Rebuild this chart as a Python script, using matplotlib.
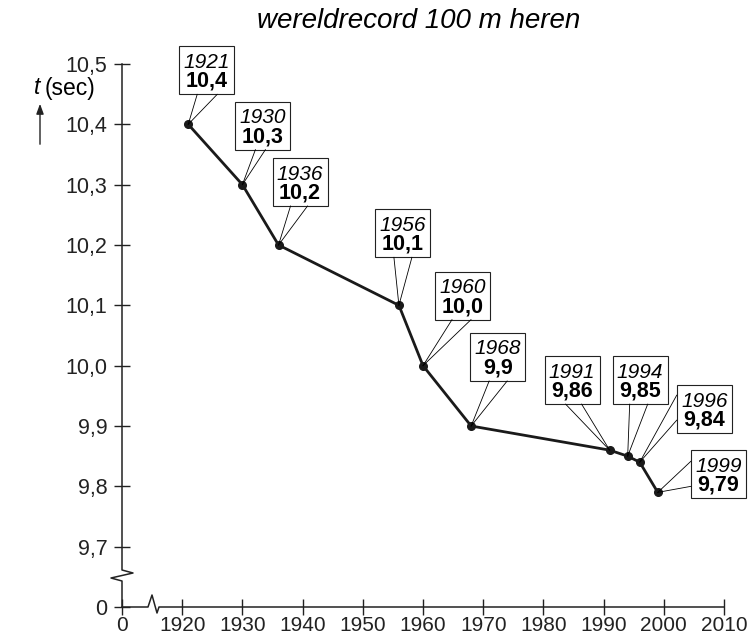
import matplotlib
matplotlib.use("Agg")
import matplotlib.pyplot as plt
from matplotlib.patches import Rectangle, FancyArrowPatch
from matplotlib.lines import Line2D

years = [1921, 1930, 1936, 1956, 1960, 1968, 1991, 1994, 1996, 1999]
times = [10.4, 10.3, 10.2, 10.1, 10.0, 9.9, 9.86, 9.85, 9.84, 9.79]
value_labels = ["10,4", "10,3", "10,2", "10,1", "10,0", "9,9", "9,86", "9,85", "9,84", "9,79"]

x_ticks = [1910, 1920, 1930, 1940, 1950, 1960, 1970, 1980, 1990, 2000, 2010]
x_ticklabels = ["0", "1920", "1930", "1940", "1950", "1960", "1970", "1980", "1990", "2000", "2010"]
y_ticks = [9.6, 9.7, 9.8, 9.9, 10.0, 10.1, 10.2, 10.3, 10.4, 10.5]
y_ticklabels = ["0", "9,7", "9,8", "9,9", "10,0", "10,1", "10,2", "10,3", "10,4", "10,5"]

# callout layout in pixels: box left/top offset from the point (screen y down),
# wedge attach side and two attach offsets
box_dx = [-9, -7, -6, -24, 12, -1, -65, -15, 37, 33]
box_dy = [-78, -83, -87, -96, -94, -93, -94, -100, -77, -42]
attach = ["b", "b", "b", "b", "b", "b", "b", "b", "l", "l"]
attach_a = [18, 20, 18, 19, 17, 19, 21, 17, 10, 11]
attach_b = [38, 30, 35, 37, 36, 37, 37, 35, 35, 36]
BW, BH = 55, 48

W, H = 748, 636
fig = plt.figure(figsize=(W / 100, H / 100), dpi=100)
x0, y0 = 122, 607       # axis origin in image pixels
xend, ytop = 724, 64
ax = fig.add_axes([x0 / W, (H - y0) / H, (xend - x0) / W, (y0 - ytop) / H])
ax.set_xlim(1910, 2010)
ax.set_ylim(9.6, 10.5)
for s in ax.spines.values():
    s.set_visible(False)

ax.set_xticks(x_ticks)
ax.set_xticklabels(x_ticklabels, family="Liberation Sans", size=15)
ax.set_yticks(y_ticks)
ax.set_yticklabels(y_ticklabels, family="Liberation Sans", size=15.5)
ax.tick_params(direction="inout", length=11, width=1, colors="#222222")
ax.tick_params(axis="x", pad=1)
ax.tick_params(axis="y", pad=5)

# axis lines with break symbols (image pixel coords -> display)
def px(pts):
    return [p[0] for p in pts], [H - p[1] for p in pts]

yaxis = [(x0, y0), (x0, 581), (111, 578), (133, 573), (x0, 570), (x0, ytop)]
xaxis = [(x0, y0), (148, y0), (152, 595), (157, 613), (159, y0), (xend, y0)]
for pts in (yaxis, xaxis):
    xs, ys = px(pts)
    fig.add_artist(Line2D(xs, ys, color="#222222", lw=1.1, transform=None))

ax.plot(years, times, color="#1a1a1a", lw=2.0, marker="o", ms=5.5, clip_on=False, zorder=3)

# callouts
fig.canvas.draw()
for i, (yr, t) in enumerate(zip(years, times)):
    px_, py_ = ax.transData.transform((yr, t))
    left = px_ + box_dx[i]
    top = py_ - box_dy[i]
    fig.add_artist(Rectangle((left, top - BH), BW, BH, fill=True, fc="white",
                             ec="#222222", lw=0.8, transform=None, zorder=4))
    if attach[i] == "b":
        pa = (left + attach_a[i], top - BH)
        pb = (left + attach_b[i], top - BH)
    else:
        pa = (left, top - attach_a[i])
        pb = (left, top - attach_b[i])
    for p in (pa, pb):
        fig.add_artist(Line2D([px_, p[0]], [py_, p[1]], color="black", lw=0.6,
                              transform=None, zorder=4))
    fig.text(left + BW / 2, top - 16, str(yr), transform=None, ha="center", va="center",
             family="Liberation Sans", style="italic", size=15, zorder=5)
    fig.text(left + BW / 2, top - 35, value_labels[i], transform=None, ha="center", va="center",
             family=["Liberation Sans Narrow", "Liberation Sans"], weight="bold", size=15.5,
             zorder=5)

fig.text(419, H - 21, "wereldrecord 100 m heren", transform=None, ha="center", va="center",
         family="Liberation Sans", style="italic", size=20)
fig.text(40, H - 88, "t", transform=None, ha="right", va="center", size=16.5,
         family="Liberation Sans", style="italic")
fig.text(45, H - 88, "(sec)", transform=None, ha="left", va="center", size=16.5,
         family="Liberation Sans")
fig.add_artist(FancyArrowPatch((40, H - 147), (40, H - 101), transform=None,
                               arrowstyle="-|>,head_length=6,head_width=2.2", lw=1,
                               color="#222222"))

fig.savefig("out.png", dpi=100)
